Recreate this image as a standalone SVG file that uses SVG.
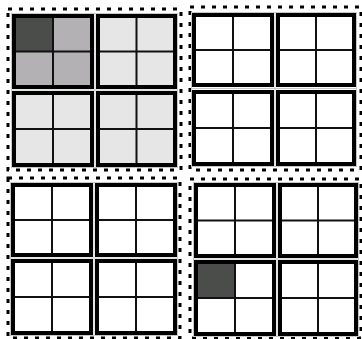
<svg xmlns="http://www.w3.org/2000/svg" width="362" height="339" viewBox="0 0 362 339">
<style>
.bg{fill:#ffffff}
.frame{fill:none;stroke:#000;stroke-width:3;stroke-dasharray:4 7}
.gap{fill:none;stroke:#c8c8c8;stroke-width:1}
.border{fill:none;stroke:#000;stroke-width:4}
.div{stroke:#111;stroke-width:2}
.white{fill:#ffffff}
.light{fill:#e6e6e6}
.mid{fill:#b3b1b3}
.dark{fill:#4a4d4a}
</style>
<rect class="bg" x="0" y="0" width="362" height="339"/>
<g id="frames">
<rect class="frame" x="8" y="9" width="173" height="161"/>
<rect class="frame" x="190" y="7" width="171" height="163"/>
<rect class="frame" x="8" y="178" width="172" height="160"/>
<rect class="frame" x="190" y="179" width="171" height="159"/>
</g>
<g id="gaps">
<rect class="gap" x="11.5" y="13.5" width="166" height="154"/>
<line class="gap" x1="95" y1="13" x2="95" y2="168"/><line class="gap" x1="11" y1="90" x2="178" y2="90"/>
<rect class="gap" x="191.5" y="12.5" width="165" height="154"/>
<line class="gap" x1="275" y1="12" x2="275" y2="167"/><line class="gap" x1="191" y1="88.5" x2="357" y2="88.5"/>
<rect class="gap" x="10.5" y="182.5" width="167" height="153"/>
<line class="gap" x1="94" y1="182" x2="94" y2="336"/><line class="gap" x1="10" y1="258" x2="178" y2="258"/>
<rect class="gap" x="193.5" y="182.5" width="165" height="154"/>
<line class="gap" x1="277" y1="182" x2="277" y2="337"/><line class="gap" x1="193" y1="259" x2="359" y2="259"/>
</g>
<!-- Quadrant 1 -->
<g id="blockA">
<rect class="mid" x="16" y="18" width="74" height="67"/>
<rect class="dark" x="16" y="18" width="37" height="33.5"/>
<line class="div" x1="53" y1="16" x2="53" y2="87"/><line class="div" x1="14" y1="51.5" x2="92" y2="51.5"/>
<rect class="border" x="14" y="16" width="78" height="71"/>
</g>
<g id="blockB">
<rect class="light" x="100" y="18" width="73" height="67"/>
<line class="div" x1="136.5" y1="16" x2="136.5" y2="87"/><line class="div" x1="98" y1="51.5" x2="175" y2="51.5"/>
<rect class="border" x="98" y="16" width="77" height="71"/>
</g>
<g id="blockC">
<rect class="light" x="16" y="95" width="74" height="68"/>
<line class="div" x1="53" y1="93" x2="53" y2="165"/><line class="div" x1="14" y1="129" x2="92" y2="129"/>
<rect class="border" x="14" y="93" width="78" height="72"/>
</g>
<g id="blockD">
<rect class="light" x="100" y="95" width="73" height="68"/>
<line class="div" x1="136.5" y1="93" x2="136.5" y2="165"/><line class="div" x1="98" y1="129" x2="175" y2="129"/>
<rect class="border" x="98" y="93" width="77" height="72"/>
</g>
<!-- Quadrant 2 -->
<g id="blockE">
<rect class="white" x="196" y="17" width="74" height="66"/>
<line class="div" x1="233" y1="15" x2="233" y2="85"/><line class="div" x1="194" y1="50" x2="272" y2="50"/>
<rect class="border" x="194" y="15" width="78" height="70"/>
</g>
<g id="blockF">
<rect class="white" x="280" y="17" width="72" height="66"/>
<line class="div" x1="316" y1="15" x2="316" y2="85"/><line class="div" x1="278" y1="50" x2="354" y2="50"/>
<rect class="border" x="278" y="15" width="76" height="70"/>
</g>
<g id="blockG">
<rect class="white" x="196" y="94" width="74" height="68"/>
<line class="div" x1="233" y1="92" x2="233" y2="164"/><line class="div" x1="194" y1="128" x2="272" y2="128"/>
<rect class="border" x="194" y="92" width="78" height="72"/>
</g>
<g id="blockH">
<rect class="white" x="280" y="94" width="72" height="68"/>
<line class="div" x1="316" y1="92" x2="316" y2="164"/><line class="div" x1="278" y1="128" x2="354" y2="128"/>
<rect class="border" x="278" y="92" width="76" height="72"/>
</g>
<!-- Quadrant 3 -->
<g id="blockI">
<rect class="white" x="15" y="187" width="74" height="66"/>
<line class="div" x1="52" y1="185" x2="52" y2="255"/><line class="div" x1="13" y1="220" x2="91" y2="220"/>
<rect class="border" x="13" y="185" width="78" height="70"/>
</g>
<g id="blockJ">
<rect class="white" x="99" y="187" width="74" height="66"/>
<line class="div" x1="136" y1="185" x2="136" y2="255"/><line class="div" x1="97" y1="220" x2="175" y2="220"/>
<rect class="border" x="97" y="185" width="78" height="70"/>
</g>
<g id="blockK">
<rect class="white" x="15" y="263" width="74" height="68"/>
<line class="div" x1="52" y1="261" x2="52" y2="333"/><line class="div" x1="13" y1="297" x2="91" y2="297"/>
<rect class="border" x="13" y="261" width="78" height="72"/>
</g>
<g id="blockL">
<rect class="white" x="99" y="263" width="74" height="68"/>
<line class="div" x1="136" y1="261" x2="136" y2="333"/><line class="div" x1="97" y1="297" x2="175" y2="297"/>
<rect class="border" x="97" y="261" width="78" height="72"/>
</g>
<!-- Quadrant 4 -->
<g id="blockM">
<rect class="white" x="198" y="187" width="74" height="67"/>
<line class="div" x1="235" y1="185" x2="235" y2="256"/><line class="div" x1="196" y1="220.5" x2="274" y2="220.5"/>
<rect class="border" x="196" y="185" width="78" height="71"/>
</g>
<g id="blockN">
<rect class="white" x="282" y="187" width="72" height="67"/>
<line class="div" x1="318" y1="185" x2="318" y2="256"/><line class="div" x1="280" y1="220.5" x2="356" y2="220.5"/>
<rect class="border" x="280" y="185" width="76" height="71"/>
</g>
<g id="blockO">
<rect class="white" x="198" y="264" width="74" height="68"/>
<rect class="dark" x="198" y="264" width="37" height="34"/>
<line class="div" x1="235" y1="262" x2="235" y2="334"/><line class="div" x1="196" y1="298" x2="274" y2="298"/>
<rect class="border" x="196" y="262" width="78" height="72"/>
</g>
<g id="blockP">
<rect class="white" x="282" y="264" width="72" height="68"/>
<line class="div" x1="318" y1="262" x2="318" y2="334"/><line class="div" x1="280" y1="298" x2="356" y2="298"/>
<rect class="border" x="280" y="262" width="76" height="72"/>
</g>
</svg>
